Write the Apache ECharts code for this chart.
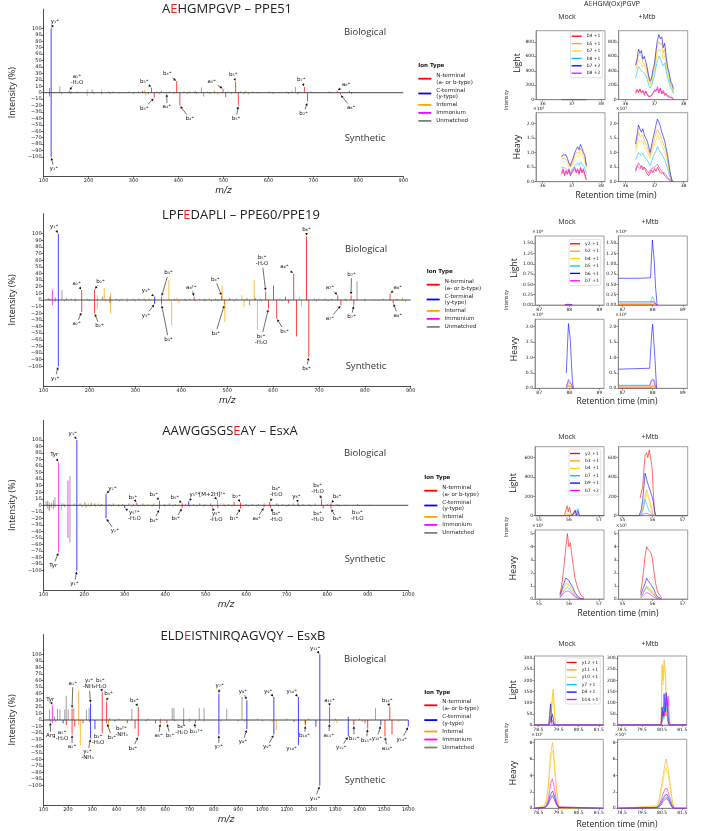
<!DOCTYPE html>
<html><head><meta charset="utf-8">
<script src="https://cdn.jsdelivr.net/npm/echarts@6/dist/echarts.min.js"></script>
<style>html,body{margin:0;padding:0;background:#fff}#c{width:708px;height:831px}</style>
</head><body><div id="c"></div>
<script>
// ---------------- DATA ----------------
const ionKeys = ['N','C','I','M','U'];
const ionNames = ['N-terminal\n(a- or b-type)','C-terminal\n(y-type)','Internal','Immonium','Unmatched'];
const specTitles = [['A','E','HGMPGVP – PPE51'],['LPF','E','DAPLI – PPE60/PPE19'],['AAWGGSGS','E','AY – EsxA'],['ELD','E','ISTNIRQAGVQY – EsxB']];
const specXMax = [900,900,1000,1600];
const specYTicks = [-100,-90,-80,-70,-60,-50,-40,-30,-20,-10,0,10,20,30,40,50,60,70,80,90,100];

// peaks: [m/z, relative intensity (%), ion type]
const p1Bio = [[113,7,'M'],[116.7,100,'C'],[136,10,'U'],[157,3,'N'],[162,2,'U'],[175,2,'U'],[197,5,'I'],[208,5,'U'],[229,5,'I'],[244,2,'U'],[254,2,'U'],[268,1,'U'],[290,2,'U'],[311,2,'U'],[320,3,'N'],[325,5,'I'],[340,8,'N'],[352,2,'U'],[362,3,'U'],[380,2,'U'],[396,18,'N'],[412,2,'U'],[425,2,'U'],[437,3,'U'],[451,8,'U'],[465,2,'U'],[480,4,'I'],[499,6,'N'],[510,2,'U'],[527,17,'N'],[538,2,'U'],[549,3,'I'],[565,2,'U'],[580,1,'U'],[602,2,'U'],[625,1,'U'],[640,2,'U'],[652,3,'U'],[660,9,'U'],[668,2,'U'],[680,9,'N'],[695,2,'U'],[710,1,'U'],[735,2,'U'],[753,3,'N'],[768,1,'U'],[780,3,'N'],[795,1,'U']];
const p1Syn = [[113,6,'M'],[116.7,100,'C'],[140,2,'U'],[160,2,'U'],[197,5,'I'],[212,2,'U'],[229,3,'I'],[248,2,'U'],[270,1,'U'],[300,2,'U'],[327,4,'I'],[333,2,'N'],[346,8,'N'],[358,2,'U'],[374,1,'N'],[390,2,'U'],[403,20,'N'],[420,2,'U'],[440,2,'U'],[456,6,'U'],[470,2,'U'],[487,3,'I'],[505,7,'N'],[518,2,'U'],[533,20,'N'],[545,2,'U'],[556,3,'I'],[575,1,'U'],[610,2,'U'],[645,2,'U'],[665,3,'U'],[687,14,'N'],[700,1,'U'],[740,1,'U'],[760,3,'N'],[785,2,'N']];
const p2Bio = [[110,3,'U'],[114,2,'U'],[119,15,'M'],[126,4,'U'],[132,100,'C'],[140,15,'U'],[150,3,'U'],[160,2,'U'],[169,3,'I'],[183,15,'N'],[195,2,'U'],[211,16,'N'],[217,7,'I'],[228,5,'U'],[232,18,'I'],[245,5,'C'],[246,10,'I'],[258,2,'U'],[270,2,'U'],[282,3,'I'],[295,2,'U'],[308,2,'U'],[319,3,'I'],[330,2,'U'],[342,5,'C'],[357,5,'N'],[373,30,'I'],[385,2,'U'],[391,3,'I'],[408,2,'U'],[418,2,'U'],[428,5,'N'],[440,2,'U'],[450,2,'U'],[461,3,'I'],[475,2,'U'],[488,6,'N'],[489,22,'I'],[505,3,'U'],[520,2,'U'],[532,7,'I'],[543,3,'U'],[559,30,'I'],[561,3,'N'],[572,2,'U'],[584,13,'N'],[601,22,'N'],[615,2,'U'],[627,5,'N'],[645,40,'N'],[658,5,'I'],[673,96,'N'],[690,2,'U'],[700,2,'U'],[713,2,'U'],[728,2,'U'],[741,7,'N'],[757,2,'U'],[770,7,'N'],[783,28,'U'],[800,2,'U'],[820,1,'U'],[840,2,'U'],[855,10,'N'],[870,2,'U'],[882,4,'I']];
const p2Syn = [[119,8,'M'],[125,3,'U'],[132,100,'C'],[145,2,'U'],[169,3,'I'],[183,18,'N'],[200,2,'U'],[211,20,'N'],[217,14,'I'],[235,2,'U'],[245,5,'C'],[246,20,'I'],[265,2,'U'],[282,3,'I'],[300,2,'U'],[322,3,'I'],[342,6,'C'],[357,7,'N'],[379,38,'I'],[395,5,'I'],[410,2,'U'],[430,2,'U'],[452,2,'U'],[466,3,'I'],[480,2,'U'],[494,7,'N'],[495,33,'I'],[515,2,'U'],[537,10,'I'],[549,8,'U'],[566,45,'I'],[575,2,'U'],[590,13,'N'],[608,28,'N'],[620,2,'U'],[634,5,'N'],[651,55,'N'],[662,10,'I'],[678,86,'N'],[695,2,'U'],[720,2,'U'],[748,8,'N'],[760,2,'U'],[776,8,'N'],[800,2,'U'],[830,1,'U'],[862,5,'N'],[889,3,'I']];
const p3Bio = [[106,6,'U'],[110,7,'U'],[114,5,'I'],[119,4,'U'],[124,8,'U'],[128,12,'U'],[137,66,'M'],[144,4,'I'],[150,3,'U'],[160,38,'M'],[165,45,'U'],[175,3,'U'],[182,100,'C'],[190,3,'U'],[202,5,'U'],[210,3,'I'],[218,4,'U'],[226,3,'U'],[235,3,'I'],[243,2,'U'],[254,18,'C'],[262,2,'U'],[272,3,'U'],[285,2,'I'],[295,2,'U'],[310,3,'U'],[322,2,'U'],[330,4,'N'],[345,3,'U'],[358,2,'I'],[372,3,'U'],[386,7,'N'],[398,2,'U'],[410,3,'U'],[425,2,'U'],[442,3,'N'],[450,2,'U'],[458,6,'C'],[470,2,'U'],[485,3,'U'],[498,2,'I'],[512,3,'U'],[529,8,'U'],[545,3,'I'],[556,2,'U'],[570,5,'N'],[586,4,'N'],[600,2,'U'],[615,2,'U'],[630,2,'U'],[644,3,'U'],[658,5,'N'],[676,3,'N'],[690,2,'U'],[705,2,'U'],[716,3,'U'],[728,3,'C'],[740,2,'U'],[755,2,'U'],[770,3,'U'],[786,9,'N'],[800,2,'U'],[809,3,'N'],[825,2,'U'],[845,1,'U'],[875,2,'U'],[905,1,'U']];
const p3Syn = [[110,5,'U'],[114,8,'N'],[119,4,'U'],[124,6,'U'],[128,3,'U'],[137,72,'M'],[144,8,'I'],[152,3,'U'],[160,50,'M'],[165,57,'U'],[182,100,'C'],[195,3,'U'],[205,4,'U'],[215,3,'I'],[228,2,'U'],[240,2,'U'],[254,20,'C'],[268,2,'U'],[285,2,'U'],[300,4,'C'],[318,2,'U'],[335,2,'U'],[350,2,'I'],[368,2,'U'],[386,6,'N'],[400,2,'U'],[420,2,'U'],[442,4,'N'],[460,2,'U'],[478,2,'U'],[495,2,'U'],[516,3,'N'],[530,4,'N'],[548,2,'U'],[565,2,'U'],[586,5,'N'],[605,2,'U'],[625,2,'U'],[644,3,'N'],[660,4,'N'],[680,2,'U'],[700,2,'U'],[730,2,'U'],[760,2,'U'],[790,5,'N'],[809,5,'N'],[830,2,'U'],[880,1,'U']];
const p4Bio = [[124,16,'U'],[136,22,'M'],[145,5,'U'],[157,17,'U'],[167,16,'U'],[187,16,'U'],[193,37,'U'],[201,16,'U'],[217,17,'N'],[224,18,'U'],[244,45,'I'],[276,16,'U'],[287,18,'U'],[293,25,'C'],[341,42,'N'],[359,28,'N'],[372,3,'U'],[410,2,'U'],[463,17,'U'],[489,20,'N'],[530,2,'U'],[580,2,'U'],[629,18,'U'],[636,18,'U'],[676,18,'U'],[700,2,'U'],[740,18,'U'],[760,18,'U'],[821,40,'C'],[853,17,'U'],[916,35,'U'],[936,30,'C'],[980,2,'U'],[1047,35,'C'],[1100,2,'U'],[1148,35,'C'],[1190,2,'U'],[1236,100,'C'],[1276,20,'N'],[1300,2,'U'],[1353,5,'C'],[1400,2,'U'],[1465,18,'U'],[1524,20,'N']];
const p4Syn = [[127,3,'U'],[136,5,'M'],[150,3,'U'],[180,5,'C'],[193,8,'N'],[217,22,'N'],[228,10,'N'],[244,7,'I'],[251,38,'I'],[262,5,'N'],[289,3,'N'],[293,28,'C'],[311,14,'C'],[341,20,'N'],[359,5,'N'],[367,10,'I'],[393,2,'C'],[444,5,'N'],[476,13,'N'],[489,25,'N'],[520,2,'U'],[560,5,'N'],[580,5,'N'],[607,5,'N'],[640,2,'U'],[676,8,'N'],[700,3,'I'],[724,5,'N'],[760,3,'I'],[821,22,'C'],[829,3,'I'],[900,2,'U'],[927,3,'I'],[936,14,'C'],[1000,2,'U'],[1040,3,'I'],[1047,22,'C'],[1057,15,'I'],[1130,3,'N'],[1148,38,'C'],[1173,5,'I'],[1177,8,'N'],[1220,10,'C'],[1236,100,'C'],[1276,5,'N'],[1307,5,'I'],[1353,25,'C'],[1376,8,'N'],[1411,3,'I'],[1422,5,'N'],[1433,13,'N'],[1487,8,'C'],[1504,25,'N'],[1533,22,'N'],[1560,3,'I'],[1600,10,'C']];

// annotations: [label m/z, label intensity, peak m/z, peak intensity, text]
const p1Ann = [[125,110,116.7,100,'y₁⁺'],[174,21,157,3,'a₂⁺\n-H₂O'],[324,18,340,8,'b₃⁺'],[375,29,396,18,'b₄⁺'],[474,18,499,6,'a₅⁺'],[522,28,527,17,'b₅⁺'],[673,20,680,9,'b₇⁺'],[773,13,753,3,'a₈⁺'],[123,-118,116.7,-100,'y₁⁺'],[324,-24,346,-8,'b₃⁺'],[374,-22,374,-1,'a₄⁺'],[425,-40,403,-20,'b₄⁺'],[528,-40,533,-20,'b₅⁺'],[678,-32,687,-15,'b₇⁺'],[784,-23,760,-3,'a₈⁺']];
const p2Ann = [[123,110,132,100,'y₁⁺'],[172,25,183,15,'a₂⁺'],[224,28,211,16,'b₂⁺'],[323,14,342,5,'y₃⁺'],[372,41,357,5,'b₃⁺'],[422,19,428,5,'a₈²⁺'],[474,31,488,6,'b₄⁺'],[576,59,584,13,'b₅⁺\n-H₂O'],[625,50,645,40,'a₆⁺'],[673,106,673,96,'b₆⁺'],[724,19,741,7,'a₇⁺'],[771,39,770,7,'b₇⁺'],[872,19,855,10,'a₈⁺'],[125,-118,132,-100,'y₁⁺'],[172,-36,183,-18,'a₂⁺'],[222,-39,211,-20,'b₂⁺'],[323,-23,342,-6,'y₃⁺'],[372,-59,357,-7,'b₃⁺'],[475,-50,494,-7,'b₄⁺'],[574,-59,590,-13,'b₅⁺\n-H₂O'],[625,-47,608,-28,'b₅⁺'],[673,-103,678,-86,'b₆⁺'],[724,-28,748,-8,'a₇⁺'],[771,-25,776,-8,'b₇⁺'],[872,-23,862,-5,'a₈⁺']];
const p3Ann = [[126,77,137,66,'Tyr'],[172,110,182,100,'y₁⁺'],[270,26,254,18,'y₂⁺'],[320,12,330,4,'b₃⁺'],[372,17,386,7,'b₄⁺'],[424,12,442,3,'b₅⁺'],[473,16,458,6,'y₅²⁺'],[516,16,529,8,'[M+2H]²⁺'],[576,14,586,4,'b₇⁺'],[674,21,658,5,'b₈⁺\n-H₂O'],[724,14,728,3,'y₆⁺'],[776,26,786,9,'b₉⁺\n-H₂O'],[824,13,809,3,'b₉⁺'],[124,-92,137,-72,'Tyr'],[176,-120,182,-100,'y₁⁺'],[276,-39,254,-20,'y₂⁺'],[324,-16,300,-4,'y₅²⁺\n-H₂O'],[372,-23,386,-6,'b₄⁺'],[426,-21,442,-4,'b₅⁺'],[526,-17,516,-3,'y₅⁺\n-H₂O'],[570,-21,586,-5,'b₇⁺'],[626,-21,644,-3,'a₈⁺'],[674,-17,660,-4,'b₈⁺\n-H₂O'],[776,-17,790,-5,'b₉⁺\n-H₂O'],[824,-21,809,-5,'b₉⁺'],[874,-15,null,null,'b₁₀⁺\n-H₂O']];
const p4Ann = [[127,31,136,22,'Tyr'],[220,56,217,17,'a₂⁺'],[287,55,293,25,'y₂⁺\n-NH₃'],[333,55,341,42,'b₃⁺\n-H₂O'],[367,40,359,28,'b₃⁺'],[473,29,489,20,'b₄⁺'],[824,53,821,40,'y₇⁺'],[920,44,936,30,'y₈⁺'],[1024,44,1047,35,'y₉⁺'],[1121,44,1148,35,'y₁₀⁺'],[1217,109,1236,100,'y₁₁⁺'],[1276,29,1276,20,'a₁₁⁺'],[1513,29,1524,20,'b₁₄⁺'],[129,-24,127,-3,'Arg'],[176,-23,193,-11,'a₂⁺\n-H₂O'],[217,-41,217,-22,'a₂⁺'],[280,-53,293,-28,'y₂⁺\n-NH₃'],[324,-30,341,-20,'b₃⁺\n-H₂O'],[380,-26,361,-5,'b₃⁺'],[420,-17,444,-5,'b₈²⁺\n-NH₃'],[467,-43,489,-25,'b₄⁺'],[573,-24,580,-5,'a₅⁺'],[620,-24,607,-5,'b₅⁺'],[667,-15,null,null,'b₆⁺\n-H₂O'],[727,-18,720,-4,'b₁₂²⁺'],[820,-41,821,-22,'y₇⁺'],[920,-33,936,-14,'y₈⁺'],[1020,-41,1047,-22,'y₉⁺'],[1120,-43,1148,-38,'y₁₀⁺'],[1173,-24,1177,-8,'b₁₀⁺'],[1217,-119,1236,-100,'y₁₁⁺'],[1273,-23,1276,-5,'a₁₁⁺'],[1324,-42,1353,-25,'y₁₂⁺'],[1377,-28,1376,-8,'b₁₂⁺'],[1427,-31,1433,-13,'b₁₃⁺'],[1471,-28,1487,-8,'y₁₃⁺'],[1513,-43,1504,-25,'a₁₄⁺'],[1573,-30,1600,-10,'y₁₄⁺']];

// XIC (extracted ion chromatograms): traces in order red, orange, gold, cyan, blue, magenta
const xicTitle1 = ['A','E','HGM(Ox)PGVP'];
const x1Ions = ['b4 +1','b5 +1','b7 +1','b8 +1','b7 +2','b8 +2'];
const x2Ions = ['y2 +1','b2 +1','b4 +1','b5 +1','b6 +1','b7 +1'];
const x3Ions = ['y2 +1','b3 +1','b4 +1','b7 +1','b9 +1','b7 +2'];
const x4Ions = ['y12 +1','y11 +1','y10 +1','y7 +1','b4 +1','b14 +1'];
const xicXRange = [[35.77,38.14],[86.86,89.15],[54.87,57.17],[78.30,81.72]];
const xicXTicks = [[36,37,38],[87,88,89],[55,56,57],[78.5,79.5,80.5,81.5]];
const xicLightMax = [954,1.677,713,309];
const xicLightTicks = [[0,200,400,600,800],[0,0.25,0.5,0.75,1,1.25,1.5],[0,200,400,600],[0,50,100,150,200,250,300]];
const xicHeavyMax = [2.37,2.24,5.28,8.4];
const xicHeavyTicks = [[0,0.5,1,1.5,2],[0,0.5,1,1.5,2],[0,1,2,3,4,5],[0,2,4,6,8]];
const xicLightExp = ['','×10⁴','',''];
const xicHeavyExp = ['×10³','×10⁶','×10⁵','×10⁵'];

const x1tMockL = [36.65,37.05,37.50];
const x1MockL = [[0,0,0],[0,0,0],[0,0,0],[0,0,0],[0,0,0],[0,0,0]];
const x1tMtbL = [36.35,36.40,36.45,36.50,36.55,36.60,36.65,36.70,36.75,36.80,36.85,36.90,36.95,37.00,37.05,37.10,37.15,37.20,37.25,37.30,37.35,37.40,37.45,37.50,37.55,37.60,37.65];
const x1MtbL = [
 [80,130,100,150,90,120,60,110,70,40,30,60,90,120,100,150,90,160,80,110,60,90,40,60,30,20,10],
 [440,520,620,600,610,520,540,470,400,300,230,270,380,450,620,750,800,760,790,650,700,540,400,330,230,190,120],
 [400,460,560,520,540,450,480,420,350,250,200,240,330,400,540,650,700,660,690,560,610,470,350,290,200,170,100],
 [300,380,460,430,450,380,400,340,280,200,160,190,270,330,450,540,600,560,580,470,510,400,300,240,170,140,80],
 [480,560,700,640,680,560,600,520,440,330,260,300,420,500,680,820,900,840,870,720,780,600,450,380,260,220,150],
 [100,150,110,140,100,130,90,120,70,50,40,70,100,140,110,180,120,150,90,130,80,100,60,70,40,30,20]];
const x1tMockH = [36.65,36.70,36.75,36.80,36.85,36.90,36.95,37.00,37.05,37.10,37.15,37.20,37.25,37.30,37.35,37.40,37.45,37.50];
const x1MockH = [
 [0.25,0.40,0.20,0.35,0.25,0.40,0.20,0.30,0.25,0.45,0.30,0.40,0.25,0.45,0.30,0.40,0.20,0.05],
 [0.80,0.86,0.80,0.85,0.72,0.60,0.50,0.62,0.75,0.92,1.00,1.05,0.98,1.15,1.05,0.92,0.80,0.50],
 [0.70,0.75,0.70,0.72,0.60,0.50,0.45,0.55,0.65,0.80,0.85,0.92,0.85,1.00,0.90,0.80,0.70,0.45],
 [0.50,0.52,0.48,0.50,0.42,0.36,0.30,0.40,0.45,0.55,0.60,0.65,0.58,0.68,0.62,0.55,0.45,0.30],
 [0.85,0.92,0.88,0.92,0.80,0.65,0.55,0.70,0.82,1.00,1.10,1.20,1.10,1.28,1.15,1.00,0.90,0.55],
 [0.30,0.45,0.25,0.40,0.30,0.45,0.25,0.35,0.30,0.50,0.35,0.45,0.30,0.50,0.35,0.45,0.25,0.10]];
const x1tMtbH = x1tMtbL;
const x1MtbH = [
 [0.40,0.55,0.60,0.45,0.55,0.40,0.50,0.35,0.30,0.20,0.30,0.40,0.30,0.45,0.35,0.50,0.40,0.30,0.25,0.30,0.20,0.15,0.10,0.05,0.02,0.00,0.00],
 [1.15,1.40,1.70,1.55,1.50,1.60,1.40,1.30,1.20,1.05,0.90,1.10,1.30,1.50,1.65,1.80,1.70,1.60,1.45,1.30,1.20,1.00,0.75,0.45,0.20,0.05,0.00],
 [1.00,1.20,1.45,1.35,1.30,1.40,1.20,1.12,1.05,0.90,0.80,0.95,1.12,1.30,1.45,1.60,1.50,1.40,1.25,1.12,1.00,0.85,0.65,0.40,0.15,0.03,0.00],
 [0.75,0.85,1.00,0.95,0.90,0.98,0.85,0.80,0.75,0.65,0.55,0.70,0.85,0.95,1.05,1.20,1.10,1.05,0.95,0.85,0.75,0.60,0.45,0.25,0.10,0.02,0.00],
 [1.30,1.60,1.95,1.80,1.70,1.82,1.60,1.50,1.40,1.20,1.00,1.25,1.50,1.70,1.95,2.15,2.05,1.90,1.70,1.55,1.40,1.15,0.90,0.55,0.25,0.05,0.00],
 [0.35,0.50,0.65,0.55,0.60,0.50,0.55,0.45,0.40,0.30,0.35,0.45,0.40,0.50,0.45,0.60,0.50,0.45,0.35,0.40,0.30,0.25,0.15,0.10,0.05,0.00,0.00]];

const x2tMockL = [87.85,87.90,87.95,88.00,88.05,88.10];
const x2MockL = [[0,0,0.005,0.005,0,0],[0,0,0.005,0.005,0,0],[0,0,0.005,0.005,0,0],[0,0,0.01,0.01,0,0],[0,0.01,0.02,0.02,0.01,0],[0,0,0.01,0.01,0,0]];
const x2tMtbL = [86.86,87.50,87.93,87.99,88.05,88.10,88.15];
const x2MtbL = [[0.01,0.01,0.01,0.05,0.03,0.01,0],[0.02,0.02,0.02,0.08,0.05,0.02,0],[0.03,0.03,0.03,0.10,0.06,0.02,0],[0.05,0.05,0.05,0.20,0.12,0.04,0],[0.65,0.65,0.66,1.58,1.10,0.40,0],[0.08,0.08,0.08,0.12,0.08,0.03,0]];
const x2tMockH = [87.90,87.93,87.97,88.00,88.03,88.07,88.10,88.13];
const x2MockH = [[0.01,0.04,0.08,0.10,0.08,0.04,0.01,0],[0.03,0.08,0.18,0.22,0.18,0.08,0.03,0],[0.02,0.06,0.12,0.15,0.12,0.06,0.02,0],[0.05,0.15,0.30,0.35,0.30,0.15,0.05,0],[0.50,1.20,2.10,2.05,1.60,0.80,0.25,0],[0.04,0.12,0.25,0.30,0.25,0.12,0.04,0]];
const x2tMtbH = [86.86,87.50,87.90,87.97,88.00,88.04,88.08,88.13];
const x2MtbH = [[0.01,0.01,0.01,0.05,0.06,0.05,0.02,0],[0.03,0.03,0.03,0.10,0.12,0.10,0.04,0],[0.05,0.05,0.05,0.15,0.18,0.15,0.05,0],[0.10,0.10,0.10,0.30,0.33,0.30,0.12,0],[0.62,0.64,0.65,1.80,2.08,2.12,0.90,0],[0.08,0.08,0.08,0.25,0.28,0.25,0.10,0]];

const x3tMockL = [54.87,55.85,55.90,55.94,55.98,56.02,56.06,56.10,56.15,56.21,56.25,56.30,56.35,57.17];
const x3MockL = [[0,0,0,103,40,86,30,0,0,59,20,0,0,0],[0,0,0,20,0,15,0,0,0,10,0,0,0,0],[0,0,0,10,0,8,0,0,0,5,0,0,0,0],[0,0,0,0,0,0,0,0,0,30,10,76,0,0],[0,0,0,0,0,0,0,0,0,50,0,52,0,0],[0,0,0,0,0,0,0,0,0,0,0,0,0,0]];
const x3tMtbL = [54.87,55.55,55.58,55.62,55.67,55.71,55.75,55.80,55.84,55.89,55.93,55.98,56.02,56.06,56.10,57.17];
const x3MtbL = [[null,null,180,190,300,480,620,650,600,680,660,500,270,60,0,0],[0,0,0,30,80,150,200,270,220,180,120,60,20,0,0,0],[0,0,0,20,60,120,180,220,200,150,100,40,10,0,0,0],[0,0,0,10,40,100,170,120,80,50,30,20,0,0,0,0],[0,0,0,60,160,300,440,380,330,310,250,200,150,60,0,0],[0,0,0,0,10,20,30,25,20,15,10,5,0,0,0,0]];
const x3tMockH = [55.70,55.75,55.80,55.85,55.90,55.95,56.00,56.05,56.10,56.15,56.20,56.30,56.40,56.50];
const x3MockH = [[0.4,0.9,1.8,2.8,4.0,5.0,4.0,4.3,3.3,2.5,1.6,0.8,0.3,0.1],[0.2,0.5,0.8,1.0,1.2,1.3,1.1,1.0,0.8,0.6,0.4,0.1,0.0,0.0],[0.2,0.4,0.7,0.9,1.0,1.1,1.0,0.9,0.7,0.5,0.3,0.1,0.0,0.0],[0.1,0.3,0.5,0.7,0.8,0.9,0.8,0.7,0.5,0.4,0.2,0.1,0.0,0.0],[0.3,0.6,1.0,1.3,1.6,1.7,1.4,1.2,1.0,0.8,0.5,0.2,0.0,0.0],[0.1,0.2,0.4,0.5,0.6,0.7,0.6,0.5,0.4,0.3,0.2,0.0,0.0,0.0]];
const x3tMtbH = [55.60,55.65,55.70,55.75,55.80,55.85,55.90,55.95,56.00,56.05,56.10,56.15,56.20,56.30];
const x3MtbH = [[0.5,1.2,2.2,3.3,4.0,3.8,3.7,3.5,3.0,2.0,1.2,0.7,0.4,0.1],[0.2,0.4,0.6,0.8,1.0,0.9,0.8,0.7,0.6,0.4,0.2,0.1,0.0,0.0],[0.2,0.3,0.5,0.7,0.9,0.8,0.7,0.6,0.5,0.3,0.2,0.1,0.0,0.0],[0.1,0.3,0.5,0.7,0.9,0.8,0.6,0.5,0.4,0.3,0.2,0.0,0.0,0.0],[0.3,0.6,0.9,1.2,1.6,1.4,1.3,1.1,0.9,0.7,0.4,0.2,0.1,0.0],[0.1,0.2,0.3,0.4,0.5,0.5,0.4,0.3,0.2,0.2,0.1,0.0,0.0,0.0]];

const x4tMockL = [78.30,79.02,79.07,79.11,79.15,79.19,79.24,79.29,79.35,81.72];
const x4MockL = [[0,0,20,40,10,20,10,0,0,0],[0,0,40,100,60,120,160,80,0,0],[0,0,30,80,50,110,150,70,0,0],[0,0,10,30,10,20,15,0,0,0],[0,0,60,94,20,50,30,0,0,0],[0,0,10,20,5,10,5,0,0,0]];
const x4tMtbL = [78.30,80.45,80.50,80.55,80.60,80.65,80.70,80.75,80.80,80.85,80.90,81.72];
const x4MtbL = [[0,0,30,60,40,80,50,40,20,0,0,0],[0,0,270,200,290,250,150,60,0,0,0,0],[0,0,250,180,260,220,120,40,0,0,0,0],[0,0,20,50,30,100,60,120,80,0,0,0],[0,0,80,40,140,60,145,100,20,0,0,0],[0,0,0,30,60,40,120,80,130,40,0,0]];
const x4tMockH = [78.30,78.80,78.90,79.00,79.10,79.15,79.20,79.25,79.30,79.40,79.50,79.55,81.72];
const x4MockH = [[0,0.1,0.2,0.5,1.1,1.3,1.5,1.3,1.0,0.4,0.1,0,0],[0,0.3,1.0,3.0,6.5,7.2,8.0,7.0,5.5,2.5,0.5,0,0],[0,0.2,0.8,2.5,5.5,6.5,7.0,6.2,4.8,2.0,0.4,0,0],[0,0.1,0.2,0.6,1.3,1.6,1.8,1.6,1.2,0.5,0.1,0,0],[0,0.1,0.3,0.8,1.7,1.9,2.1,1.9,1.5,0.6,0.1,0,0],[0,0.1,0.4,1.2,2.8,3.3,3.6,3.0,2.3,0.9,0.2,0,0]];
const x4tMtbH = [78.30,80.25,80.35,80.45,80.55,80.65,80.70,80.75,80.80,80.90,81.00,81.10,81.72];
const x4MtbH = [[0,0.1,0.2,0.4,0.8,1.1,1.3,1.2,1.0,0.5,0.1,0,0],[0,0.3,1.0,2.5,4.0,5.5,6.0,5.8,4.8,3.0,1.0,0,0],[0,0.2,0.8,2.0,3.4,4.6,5.0,4.8,4.0,2.5,0.8,0,0],[0,0.1,0.2,0.5,1.0,1.3,1.5,1.4,1.1,0.6,0.2,0,0],[0,0.1,0.3,0.7,1.2,1.6,1.8,1.7,1.4,0.8,0.2,0,0],[0,0.1,0.4,1.0,1.8,2.4,2.6,2.4,2.0,1.2,0.4,0,0]];

// ---------------- LAYOUT / STYLE ----------------
const ionColors = ['#ff0000','#0000ff','#ffa500','#ff00ff','#808080'];
const xicColors = ['#ff0000','#ffa500','#ffd700','#00bfff','#0000ff','#ff00ff'];
const FT = '"Open Sans", sans-serif';
const FD = '"DejaVu Sans", sans-serif';
const specGrids = [
  {left:36.7, top:9.1, width:366.6, height:167.2},
  {left:34.3, top:213.8, width:376.4, height:172.4},
  {left:33.3, top:420.4, width:375, height:169.8},
  {left:33.3, top:634.6, width:375, height:170.8}];
const specTitlePos = [[227,9],[241,215],[230,431],[243,636]];
const bioPos = [[365,32,138],[366,249,366],[365,453,559],[365,659,780]];
const legPos = [[418.3,65.7],[426.7,271.7],[424.3,477.7],[424.3,692.3]];
const xicLeft = [[536,618.7],[535,618.3],[535,618.7],[534.3,617.7]];
const xicTopL = [30.7,236,446.7,656];
const xicTopH = [112.7,319.3,530,739.3];
const xicLegPos = [[570.7,31.7],[569,239.3],[569,449],[565.7,658]];
const xicText = [
  {mock:[567,17], mtb:[647,17], light:[518,63], heavy:[518,147], inten:[507,100], rt:[616,196]},
  {mock:[567,222], mtb:[650,222], light:[515,268], heavy:[515,349], inten:[507,300], rt:[617,402]},
  {mock:[567,437], mtb:[650,437], light:[514,483], heavy:[514,568], inten:[507,527], rt:[618,614]},
  {mock:[567,644], mtb:[650,644], light:[514,690], heavy:[514,773], inten:[507,733], rt:[617,825]}];

// ---------------- BUILD ----------------
const grids=[], xAxes=[], yAxes=[], series=[], legends=[], graphics=[];
const specBio=[p1Bio,p2Bio,p3Bio,p4Bio], specSyn=[p1Syn,p2Syn,p3Syn,p4Syn], specAnn=[p1Ann,p2Ann,p3Ann,p4Ann];
const fmtNeg = v => v < 0 ? '−' + (-v) : '' + v;
const fmtPlain = v => '' + v;

function T(x,y,text,font,rot,fill,align){
  return {type:'text', x:x, y:y, rotation:rot||0, silent:true, z:10,
    style:{text:text, font:font, fill:fill||'#222', align:align||'center', verticalAlign:'middle', textAlign:align||'center', textVerticalAlign:'middle'}};
}
function RT(x,y,parts,size){
  return {type:'text', x:x, y:y, silent:true, z:10,
    style:{text:'{a|'+parts[0]+'}{r|'+parts[1]+'}{a|'+parts[2]+'}',
      rich:{a:{fontSize:size, fontFamily:FT, fill:'#222'}, r:{fontSize:size, fontFamily:FT, fill:'#e8201a'}},
      align:'center', verticalAlign:'middle', textAlign:'center', textVerticalAlign:'middle'}};
}
function peakRender(params, api){
  const x=api.value(0), y=api.value(1);
  const a=api.coord([x,0]), b=api.coord([x,y]);
  return {type:'line', shape:{x1:a[0],y1:a[1],x2:b[0],y2:b[1]}, style:{stroke:api.visual('color'), lineWidth:1, opacity:0.75}};
}
function annRender(ann){
  return function(params, api){
    const a = ann[params.dataIndex];
    const L = api.coord([a[0],a[1]]);
    const lines = a[4].split('\n');
    const children = [{type:'text', x:L[0], y:L[1], style:{text:a[4], font:'5.5px '+FD, fill:'#111', align:'center', verticalAlign:'middle', lineHeight:6}}];
    if (a[2] !== null) {
      const Tp = api.coord([a[2],a[3]]);
      const dx=Tp[0]-L[0], dy=Tp[1]-L[1], d=Math.hypot(dx,dy);
      const maxLen = Math.max.apply(null, lines.map(s=>s.length));
      const hw = maxLen*1.6+1, hh = lines.length*3+1;
      const s = Math.min(dx? hw/Math.abs(dx):Infinity, dy? hh/Math.abs(dy):Infinity);
      if (s < 0.85 && d > 0) {
        const ux=dx/d, uy=dy/d;
        const S=[L[0]+dx*s, L[1]+dy*s];
        const E=[Tp[0]-ux*0.8, Tp[1]-uy*0.8];
        const B=[E[0]-ux*2.6, E[1]-uy*2.6];
        children.push({type:'line', shape:{x1:S[0],y1:S[1],x2:B[0],y2:B[1]}, style:{stroke:'#111', lineWidth:0.6}});
        children.push({type:'polygon', shape:{points:[E,[B[0]-uy*1.3,B[1]+ux*1.3],[B[0]+uy*1.3,B[1]-ux*1.3]]}, style:{fill:'#111'}});
      }
    }
    return {type:'group', children:children};
  };
}

for (let p=0;p<4;p++){
  grids.push(Object.assign({containLabel:false, show:false}, specGrids[p]));
  xAxes.push({type:'value', gridIndex:p, min:100, max:specXMax[p], interval:100,
    axisLine:{onZero:false, lineStyle:{color:'#222', width:0.8}},
    axisTick:{length:2.5, lineStyle:{color:'#222', width:0.6}},
    axisLabel:{formatter:fmtPlain, fontSize:5, fontFamily:FD, color:'#222', margin:2},
    splitLine:{show:false},
    name:'m/z', nameLocation:'middle', nameGap:10,
    nameTextStyle:{fontSize:9, fontStyle:'italic', fontFamily:FD, color:'#222'}});
  yAxes.push({type:'value', gridIndex:p, min:-130, max:130,
    axisLine:{show:true, onZero:false, lineStyle:{color:'#222', width:0.8}},
    axisTick:{show:true, customValues:specYTicks, length:2.5, lineStyle:{color:'#222', width:0.6}},
    axisLabel:{customValues:specYTicks, formatter:fmtNeg, fontSize:5, fontFamily:FD, color:'#222', margin:2},
    splitLine:{show:false},
    name:'Intensity (%)', nameLocation:'middle', nameGap:19, nameRotate:90,
    nameTextStyle:{fontSize:9, fontFamily:FT, color:'#222'}});
  ionKeys.forEach((k,ti)=>{
    const data = specBio[p].filter(d=>d[2]===k).map(d=>[d[0],d[1]])
      .concat(specSyn[p].filter(d=>d[2]===k).map(d=>[d[0],-d[1]]));
    series.push({type:'custom', name:ionNames[ti], xAxisIndex:p, yAxisIndex:p, data:data,
      encode:{x:0,y:1}, itemStyle:{color:ionColors[ti]}, renderItem:peakRender, silent:true, animation:false, z:2});
  });
  // zero line
  series.push({type:'custom', xAxisIndex:p, yAxisIndex:p, data:[[100,0]], silent:true, animation:false, z:3,
    renderItem:function(params, api){
      const cs=params.coordSys; const y=api.coord([100,0])[1];
      return {type:'line', shape:{x1:cs.x,y1:y,x2:cs.x+cs.width,y2:y}, style:{stroke:'#333', lineWidth:0.9}};
    }});
  // annotations
  series.push({type:'custom', xAxisIndex:p, yAxisIndex:p, data:specAnn[p].map(a=>[a[0],a[1]]), encode:{x:0,y:1},
    silent:true, animation:false, z:5, clip:false, renderItem:annRender(specAnn[p])});
  legends.push({left:legPos[p][0], top:legPos[p][1]+6.2, orient:'vertical', icon:'rect', itemWidth:13, itemHeight:1.8,
    itemGap:1.2, padding:0, selectedMode:false, data:ionNames.slice(),
    textStyle:{fontSize:5.5, fontFamily:FD, color:'#222', lineHeight:6.8}});
  graphics.push(T(legPos[p][0], legPos[p][1], 'Ion Type', 'bold 5.5px '+FD, 0, '#111', 'left'));
  graphics.push(RT(specTitlePos[p][0], specTitlePos[p][1], specTitles[p], 13));
  graphics.push(T(bioPos[p][0], bioPos[p][1], 'Biological', '9.5px '+FT, 0, '#333'));
  graphics.push(T(bioPos[p][0], bioPos[p][2], 'Synthetic', '9.5px '+FT, 0, '#333'));
}

const xicAll = [
  [[x1tMockL,x1MockL],[x1tMtbL,x1MtbL],[x1tMockH,x1MockH],[x1tMtbH,x1MtbH]],
  [[x2tMockL,x2MockL],[x2tMtbL,x2MtbL],[x2tMockH,x2MockH],[x2tMtbH,x2MtbH]],
  [[x3tMockL,x3MockL],[x3tMtbL,x3MtbL],[x3tMockH,x3MockH],[x3tMtbH,x3MtbH]],
  [[x4tMockL,x4MockL],[x4tMtbL,x4MtbL],[x4tMockH,x4MockH],[x4tMtbH,x4MtbH]]];
const xicIons = [x1Ions,x2Ions,x3Ions,x4Ions];

for (let p=0;p<4;p++){
  const names = xicIons[p].map(n=>n+'\u200b'.repeat(p));
  for (let k=0;k<4;k++){
    const gi = grids.length;
    const heavy = k>=2;
    grids.push({left:xicLeft[p][k%2], top: heavy? xicTopH[p] : xicTopL[p], width:69, height:69,
      show:true, borderColor:'#777', borderWidth:0.7, containLabel:false});
    xAxes.push({type:'value', gridIndex:gi, min:xicXRange[p][0], max:xicXRange[p][1],
      axisLine:{onZero:false, lineStyle:{color:'#777', width:0.7}},
      axisTick:{customValues:xicXTicks[p], length:2, lineStyle:{color:'#444', width:0.5}},
      axisLabel:{customValues:xicXTicks[p], formatter:fmtPlain, fontSize:4.5, fontFamily:FD, color:'#222', margin:2},
      splitLine:{show:false}});
    const ticks = heavy? xicHeavyTicks[p] : xicLightTicks[p];
    const dec = heavy ? (p<2?1:0) : (p===1?2:0);
    yAxes.push({type:'value', gridIndex:gi, min:0, max: heavy? xicHeavyMax[p] : xicLightMax[p],
      axisLine:{onZero:false, lineStyle:{color:'#777', width:0.7}},
      axisTick:{show:true, customValues:ticks, length:2, lineStyle:{color:'#444', width:0.5}},
      axisLabel:{customValues:ticks, formatter:v=>v.toFixed(dec), fontSize:4.5, fontFamily:FD, color:'#222', margin:2},
      splitLine:{show:false},
      name: heavy? xicHeavyExp[p] : xicLightExp[p], nameLocation:'end', nameGap:1.5,
      nameTextStyle:{fontSize:4.5, fontFamily:FD, color:'#222', align:'left', padding:[0,0,0,-3]}});
    const tt = xicAll[p][k][0], vals = xicAll[p][k][1];
    for (let j=0;j<6;j++){
      series.push({type:'line', name:names[j], xAxisIndex:gi, yAxisIndex:gi,
        data: tt.map((t,i)=>[t, vals[j][i]]), showSymbol:false, symbol:'none', connectNulls:false,
        lineStyle:{width:0.9, opacity:0.65, color:xicColors[j]}, itemStyle:{color:xicColors[j]},
        silent:true, animation:false, clip:true, z:2});
    }
  }
  legends.push({left:xicLegPos[p][0], top:xicLegPos[p][1], orient:'vertical', icon:'rect', itemWidth:10, itemHeight:1.3,
    itemGap:1.4, padding:[1.5,2,1.5,1], backgroundColor:'#fff', borderColor:'#ccc', borderWidth:0.6, borderRadius:1.5,
    selectedMode:false, data:names, textStyle:{fontSize:4.5, fontFamily:FD, color:'#222', lineHeight:6}});
  const tx = xicText[p];
  graphics.push(T(tx.mock[0], tx.mock[1], 'Mock', '7px '+FT));
  graphics.push(T(tx.mtb[0], tx.mtb[1], '+Mtb', '7px '+FT));
  graphics.push(T(tx.light[0], tx.light[1], 'Light', '8.5px '+FT, Math.PI/2));
  graphics.push(T(tx.heavy[0], tx.heavy[1], 'Heavy', '8.5px '+FT, Math.PI/2));
  graphics.push(T(tx.inten[0], tx.inten[1], 'Intensity', '5px '+FT, Math.PI/2));
  graphics.push(T(tx.rt[0], tx.rt[1], 'Retention time (min)', '8.5px '+FT));
}
graphics.push(RT(612, 3.8, xicTitle1, 7));

const chart = echarts.init(document.getElementById('c'), null, {renderer:'canvas', width:708, height:831});
chart.setOption({
  backgroundColor:'#fff', animation:false,
  grid:grids, xAxis:xAxes, yAxis:yAxes, series:series, legend:legends, graphic:graphics
});
</script></body></html>
